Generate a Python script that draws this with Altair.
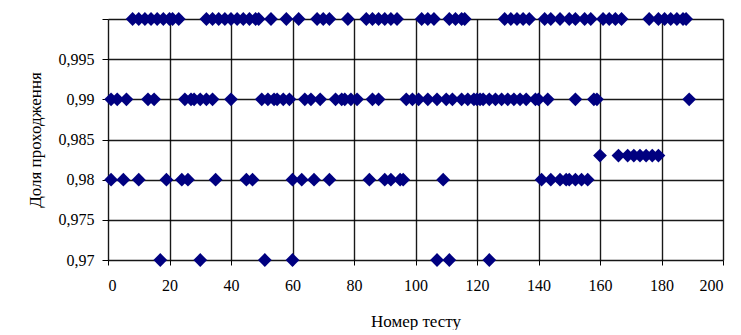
import altair as alt
import pandas as pd

# Test numbers for each pass-rate level
tests_100 = [8, 10, 12, 14, 16, 18, 20, 21, 23,
             32, 34, 36, 38, 40, 42, 44, 46, 48, 49, 53, 58, 62,
             68, 70, 72, 78, 84, 86, 88, 90, 92, 94,
             102, 104, 106, 111, 113, 115, 116,
             129, 131, 133, 135, 137, 142, 144, 147, 150, 152, 155, 157,
             161, 163, 165, 167, 176, 179, 181, 183, 185, 187, 188]
tests_099 = [1, 3, 6, 13, 15, 25, 27, 28, 30, 32, 34, 40,
             50, 52, 54, 55, 57, 59, 64, 66, 69, 74, 76, 77, 79, 81, 86, 88,
             97, 99, 101, 104, 107, 110, 112, 115, 117, 119, 120, 121, 122,
             124, 126, 128, 130, 132, 134, 136, 139, 140, 143,
             152, 158, 159, 189]
tests_0983 = [160, 166, 169, 171, 173, 175, 177, 179]
tests_098 = [1, 5, 10, 19, 24, 26, 35, 45, 47, 60, 63, 67, 72,
             85, 90, 92, 95, 96, 109,
             141, 144, 147, 149, 150, 152, 154, 156]
tests_097 = [17, 30, 51, 60, 107, 111, 124]

levels = [1.0, 0.99, 0.983, 0.98, 0.97]
groups = [tests_100, tests_099, tests_0983, tests_098, tests_097]

rows = []
for lvl, xs in zip(levels, groups):
    for x in xs:
        rows.append({"test": x, "rate": lvl})
df = pd.DataFrame(rows)

x_ticks = list(range(0, 201, 20))
y_ticks = [0.97, 0.975, 0.98, 0.985, 0.99, 0.995, 1.0]

font = "Liberation Serif"

points = alt.Chart(df).mark_point(
    shape="diamond", filled=True, color="#000080", size=190, opacity=1, clip=False
).encode(
    x=alt.X("test:Q", scale=alt.Scale(domain=[0, 200], nice=False),
            axis=alt.Axis(values=x_ticks, title="Номер тесту", grid=True,
                          gridColor="#000000", gridWidth=1.4, gridOpacity=0.9,
                          domain=False, tickColor="#000000", tickSize=5,
                          labelFont=font, labelFontSize=16, labelColor="#000000",
                          labelPadding=12,
                          titleFont=font, titleFontSize=17, titleFontWeight="normal",
                          titleColor="#000000", titlePadding=20)),
    y=alt.Y("rate:Q", scale=alt.Scale(domain=[0.97, 1.0], nice=False, zero=False),
            axis=alt.Axis(values=y_ticks, title="Доля проходження", grid=True,
                          labelExpr="datum.value > 0.9999 ? '' : replace(format(datum.value, '.3~f'), '.', ',')",
                          gridColor="#000000", gridWidth=1.4, gridOpacity=0.9,
                          domain=False, tickColor="#000000", tickSize=6,
                          labelFont=font, labelFontSize=16, labelColor="#000000",
                          labelPadding=8,
                          titleFont=font, titleFontSize=17, titleFontWeight="normal",
                          titleColor="#000000", titlePadding=14)),
)

chart = points.properties(
    width=615, height=241,
    autosize=alt.AutoSizeParams(type="none"),
    padding={"left": 100, "top": 11, "right": 2, "bottom": 70},
).configure_view(
    stroke="#000000", strokeWidth=2.5
).configure(background="#ffffff")

chart.save("out.html", embed_options={"renderer": "svg", "actions": False})
